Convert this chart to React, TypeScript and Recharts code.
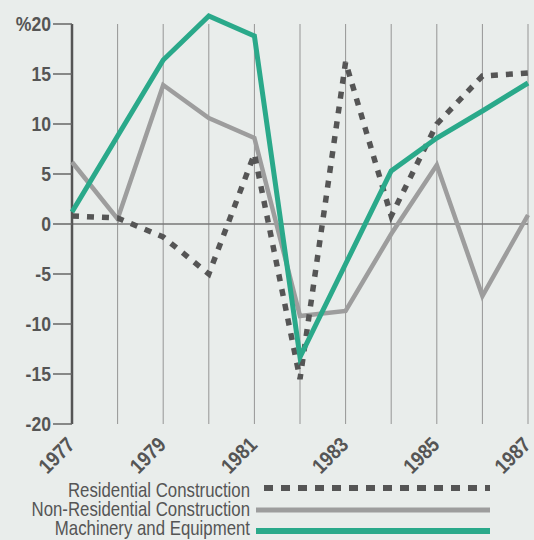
import React from "react";
import { LineChart, Line, XAxis, YAxis, ReferenceLine } from "recharts";

const years = [1977, 1978, 1979, 1980, 1981, 1982, 1983, 1984, 1985, 1986, 1987];
const residential = [0.8, 0.6, -1.3, -5.0, 7.0, -15.5, 16.2, 0.8, 10.0, 14.8, 15.1];
const nonResidential = [6.2, 0.5, 13.9, 10.6, 8.6, -9.2, -8.7, -1.0, 5.9, -7.2, 0.9];
const machinery = [1.2, 8.8, 16.4, 20.8, 18.8, -13.3, -4.0, 5.3, 8.6, 11.3, 14.1];
const yTicks = [-20, -15, -10, -5, 0, 5, 10, 15, 20];
const xTickLabels = [1977, 1979, 1981, 1983, 1985, 1987];
const seriesNames = ["Residential Construction", "Non-Residential Construction", "Machinery and Equipment"];

const data = years.map((y, i) => ({
  year: y,
  residential: residential[i],
  nonResidential: nonResidential[i],
  machinery: machinery[i],
}));

const FONT = '"Liberation Sans", Arial, sans-serif';
const TEXT = "#555555";
const BG = "#e9edeb";
const COLORS: Record<string, string> = { residential: "#555555", nonResidential: "#9d9d9d", machinery: "#2aa98a" };

const YTick = (props: any) => {
  const { x, y, payload } = props;
  const v = payload.value;
  return (
    <g transform={`translate(${x}, ${y + 7}) scale(0.88, 1)`}>
      <text x={0} y={0} textAnchor="end" fill={TEXT} fontFamily={FONT} fontWeight="bold" fontSize={20}>
        {v === 20 ? "%20" : String(v)}
      </text>
    </g>
  );
};

const XTick = (props: any) => {
  const { x, y, payload } = props;
  const ax = x + 4;
  const ay = y + 14;
  return (
    <g transform={`translate(${ax}, ${ay}) rotate(-45) scale(0.87, 1)`}>
      <text x={0} y={0} textAnchor="end" fill={TEXT} fontFamily={FONT} fontWeight="bold" fontSize={21}>
        {payload.value}
      </text>
    </g>
  );
};

const legendRows = [
  { key: "residential", y: 490, lineY: 488, dash: "9 8", width: 6, x1: 264, x2: 490 },
  { key: "nonResidential", y: 509, lineY: 510, dash: undefined, width: 5, x1: 256, x2: 490 },
  { key: "machinery", y: 528, lineY: 531, dash: undefined, width: 6, x1: 256, x2: 490 },
];

export default function App() {
  return (
    <div style={{ position: "absolute", left: 0, top: 0, width: 534, height: 540, background: BG }}>
      <LineChart width={534} height={540} data={data} margin={{ top: 9, right: 6, bottom: 76, left: 0 }}>
        {years.map((yr) => (
          <ReferenceLine
            key={yr}
            segment={[{ x: yr, y: -20 }, { x: yr, y: 20 }]}
            stroke="#959595"
            strokeWidth={1}
          />
        ))}
        <ReferenceLine y={0} stroke="#777777" strokeWidth={1.5} />
        <ReferenceLine segment={[{ x: 1977, y: -20 }, { x: 1977, y: 20 }]} stroke="#555555" strokeWidth={2.5} />
        <XAxis
          dataKey="year"
          type="number"
          domain={[1977, 1987]}
          ticks={xTickLabels}
          axisLine={false}
          tickLine={false}
          tick={<XTick />}
          height={40}
          interval={0}
        />
        <YAxis
          type="number"
          domain={[-20, 21.5]}
          ticks={yTicks}
          axisLine={false}
          tickLine={{ stroke: "#666666", strokeWidth: 1.5 }}
          tickSize={19}
          tickMargin={2}
          tick={<YTick />}
          width={72}
          interval={0}
        />
        <Line dataKey="nonResidential" stroke={COLORS.nonResidential} strokeWidth={4.5} dot={false} isAnimationActive={false} strokeLinejoin="miter" />
        <Line dataKey="residential" stroke={COLORS.residential} strokeWidth={5.5} strokeDasharray="7 8" dot={false} isAnimationActive={false} />
        <Line dataKey="machinery" stroke={COLORS.machinery} strokeWidth={5} dot={false} isAnimationActive={false} strokeLinejoin="miter" />
      </LineChart>
      <svg width={534} height={540} style={{ position: "absolute", left: 0, top: 0, pointerEvents: "none" }}>
        {legendRows.map((r, i) => (
          <g key={r.key}>
            <g transform={`translate(250, ${r.y + 7}) scale(0.82, 1)`}>
              <text x={0} y={0} textAnchor="end" fill={TEXT} fontFamily={FONT} fontSize={20.5}>
                {seriesNames[i]}
              </text>
            </g>
            <line x1={r.x1} x2={r.x2} y1={r.lineY} y2={r.lineY} stroke={COLORS[r.key]} strokeWidth={r.width} strokeDasharray={r.dash} />
          </g>
        ))}
      </svg>
    </div>
  );
}
